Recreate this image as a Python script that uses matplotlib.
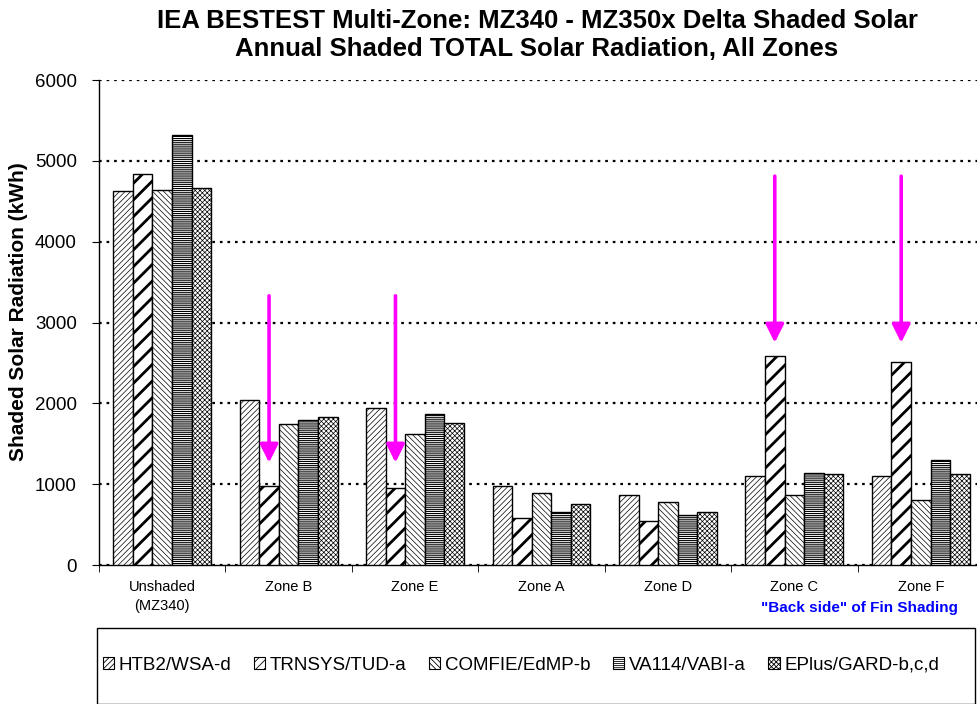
import numpy as np
import matplotlib.pyplot as plt
import matplotlib.patches as mpatches

plt.rcParams['font.family'] = ['Liberation Sans', 'DejaVu Sans']
plt.rcParams['hatch.linewidth'] = 0.6

# data (kWh)
zones = ['Unshaded\n(MZ340)', 'Zone B', 'Zone E', 'Zone A', 'Zone D', 'Zone C', 'Zone F']
programs = ['HTB2/WSA-d', 'TRNSYS/TUD-a', 'COMFIE/EdMP-b', 'VA114/VABI-a', 'EPlus/GARD-b,c,d']
htb2 = [4632, 2038, 1939, 974, 862, 1106, 1106]
trnsys = [4835, 978, 949, 578, 545, 2583, 2509]
comfie = [4645, 1741, 1621, 887, 776, 862, 801]
va114 = [5325, 1794, 1865, 660, 619, 1135, 1296]
eplus = [4662, 1828, 1754, 759, 660, 1130, 1122]

# magenta arrows: (zone index, start value, end value)
arrow_zone = [1, 2, 5, 6]
arrow_from = [3330, 3330, 4810, 4810]
arrow_to = [1266, 1266, 2750, 2750]

series = [htb2, trnsys, comfie, va114, eplus]
hatches = ['//////', '//', '\\\\\\\\\\\\', '--------', 'xxxxxxx']
hatch_lw = [0.5, 2.0, 0.5, 0.8, 0.5]
legend_hatches = ['//////', '////', '\\\\\\\\\\\\', '--------', 'xxxxxxx']

fig = plt.figure(figsize=(9.77, 7.04), dpi=100)
ax = fig.add_axes([99 / 977, 1 - 565 / 704, 885 / 977, 485 / 704])

x = np.arange(len(zones))
bw = 0.155
for i, (vals, h) in enumerate(zip(series, hatches)):
    bars = ax.bar(x + (i - 2) * bw, vals, bw, facecolor='white', edgecolor='black',
                  linewidth=1.0, hatch=h, zorder=3)
    for b in bars:
        if hasattr(b, 'set_hatch_linewidth'):
            b.set_hatch_linewidth(hatch_lw[i])

for z, y0, y1 in zip(arrow_zone, arrow_from, arrow_to):
    xa = z - bw
    ax.annotate('', xy=(xa, y1), xytext=(xa, y0),
                arrowprops=dict(arrowstyle='-|>,head_length=1.1,head_width=0.55',
                                color='#ff00ff', lw=2.6, shrinkA=0, shrinkB=0),
                zorder=5)

ax.set_xlim(-0.5, 6.5)
ax.set_ylim(0, 6000)
ax.set_yticks(np.arange(0, 6001, 1000))
ax.yaxis.grid(True, linestyle=(0, (1.2, 2.2)), color='black', linewidth=1.6)
ax.set_axisbelow(True)
ax.tick_params(axis='y', labelsize=13.5, length=5, direction='out', pad=11)
ax.set_xticks(x)
ax.set_xticklabels(zones, fontsize=10.5, linespacing=1.4)
ax.tick_params(axis='x', length=0, pad=11)
ax.set_xticks(np.arange(-0.5, 7, 1), minor=True)
ax.tick_params(axis='x', which='minor', length=5, direction='out')
for s in ['top', 'right']:
    ax.spines[s].set_visible(False)
ax.spines['left'].set_linewidth(1.0)
ax.spines['bottom'].set_linewidth(1.0)

ax.set_ylabel('Shaded Solar Radiation (kWh)', fontsize=15, fontweight='bold', va='center')
ax.yaxis.set_label_coords(-81 / 885, (565 - 312) / 485)

fig.text(537 / 977, 1 - 35 / 704,
         'IEA BESTEST Multi-Zone: MZ340 - MZ350x Delta Shaded Solar\nAnnual Shaded TOTAL Solar Radiation, All Zones',
         ha='center', va='center', fontsize=18.5, fontweight='bold', linespacing=1.25)

fig.text(859 / 977, 1 - 608 / 704, '"Back side" of Fin Shading', ha='center', va='center',
         color='#0000ff', fontsize=11, fontweight='bold')

# legend box
fig.patches.append(mpatches.Rectangle((97 / 977, 0.0), 878 / 977, (704 - 628) / 704,
                                      transform=fig.transFigure, fill=False,
                                      edgecolor='black', linewidth=1.0))
handles = []
for h in legend_hatches:
    p = mpatches.Patch(facecolor='white', edgecolor='black', hatch=h, linewidth=0.8)
    handles.append(p)
fig.legend(handles, programs, loc='center', bbox_to_anchor=(521 / 977, 1 - 665 / 704),
           ncol=5, frameon=False, fontsize=13.5, handlelength=0.6, handleheight=0.6,
           handletextpad=0.25, columnspacing=1.2)

fig.savefig('out.png', dpi=100)
